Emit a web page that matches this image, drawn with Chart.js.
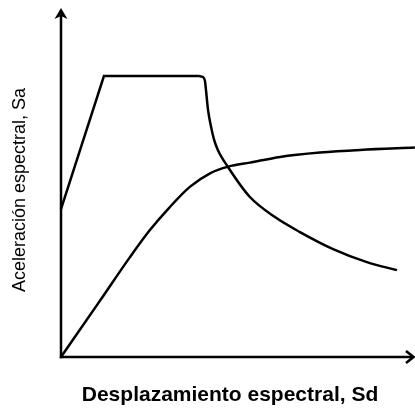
<!DOCTYPE html>
<html>
<head>
<meta charset="utf-8">
<script src="https://cdn.jsdelivr.net/npm/chart.js@4.4.0/dist/chart.umd.min.js"></script>
<style>
  html, body { margin: 0; padding: 0; background: #ffffff; }
  #wrap { width: 415px; height: 408px; position: relative; }
</style>
</head>
<body>
<div id="wrap"><canvas id="c"></canvas></div>
<script>
// Demand spectrum: linear ramp + constant plateau
const demandRampX = [0, 1.27, 4.08];
const demandRampY = [4.43, 8.41, 8.41];
// Demand spectrum: descending branch
const demandFallX = [4.08, 4.20, 4.26, 4.29, 4.35, 4.44, 4.53, 4.64, 4.94, 5.59, 6.33, 7.07, 8.05, 9.05, 9.94];
const demandFallY = [8.41, 8.38, 8.26, 7.99, 7.40, 6.89, 6.50, 6.20, 5.69, 4.79, 4.19, 3.74, 3.23, 2.84, 2.60];
// Capacity curve
const capacityX = [0, 1.15, 2.04, 2.63, 3.22, 3.82, 4.41, 4.95, 5.59, 6.48, 7.66, 8.85, 10.47];
const capacityY = [0, 1.68, 2.99, 3.80, 4.49, 5.10, 5.50, 5.70, 5.82, 5.99, 6.12, 6.20, 6.27];

const xTitle = 'Desplazamiento espectral, Sd';
const yTitle = 'Aceleración espectral, Sa';

function pts(xs, ys) { return xs.map((x, i) => ({ x: x, y: ys[i] })); }

const axesArrows = {
  id: 'axesArrows',
  afterDatasetsDraw(chart) {
    const ctx = chart.ctx;
    const a = chart.chartArea;
    const x0 = a.left, y0 = a.bottom;
    ctx.save();
    ctx.strokeStyle = '#000';
    ctx.fillStyle = '#000';
    ctx.lineWidth = 2.5;
    ctx.lineCap = 'butt';
    ctx.beginPath();
    ctx.moveTo(x0, y0 + 1.2);
    ctx.lineTo(x0, 14);
    ctx.stroke();
    ctx.beginPath();
    ctx.moveTo(x0 - 1.2, y0);
    ctx.lineTo(412, y0);
    ctx.stroke();
    // y arrow head (filled)
    ctx.beginPath();
    ctx.moveTo(x0, 8);
    ctx.lineTo(x0 + 6.5, 19);
    ctx.lineTo(x0, 16);
    ctx.lineTo(x0 - 6.5, 19);
    ctx.closePath();
    ctx.fill();
    // x arrow head (chevron)
    ctx.lineJoin = 'miter';
    ctx.beginPath();
    ctx.moveTo(406, y0 - 6);
    ctx.lineTo(413.5, y0);
    ctx.lineTo(406, y0 + 6);
    ctx.stroke();
    ctx.restore();
  }
};

new Chart(document.getElementById('c'), {
  type: 'scatter',
  data: {
    datasets: [
      { data: pts(demandRampX, demandRampY), showLine: true, borderColor: '#000', borderWidth: 2.5, pointRadius: 0, tension: 0, clip: false, borderJoinStyle: 'miter' },
      { data: pts(demandFallX, demandFallY), showLine: true, borderColor: '#000', borderWidth: 2.5, pointRadius: 0, cubicInterpolationMode: 'monotone', clip: false },
      { data: pts(capacityX, capacityY), showLine: true, borderColor: '#000', borderWidth: 2.5, pointRadius: 0, cubicInterpolationMode: 'monotone', clip: false }
    ]
  },
  options: {
    responsive: true,
    maintainAspectRatio: false,
    animation: false,
    layout: { padding: { top: 23, right: 16, left: 0, bottom: 0 } },
    plugins: { legend: { display: false }, tooltip: { enabled: false } },
    scales: {
      x: {
        type: 'linear', min: 0, max: 10,
        grid: { display: false }, border: { display: false },
        ticks: { display: false },
        title: { display: true, text: xTitle, color: '#000', padding: { top: 0, bottom: 0 },
                 font: { family: 'Liberation Sans', size: 21, weight: 'bold' } },
        afterFit(s) { s.height = 51; }
      },
      y: {
        type: 'linear', min: 0, max: 10,
        grid: { display: false }, border: { display: false },
        ticks: { display: false },
        title: { display: true, text: yTitle, color: '#000', padding: { top: 9, bottom: 0 },
                 font: { family: 'Liberation Sans', size: 18, weight: 'normal' } },
        afterFit(s) { s.width = 61; }
      }
    }
  },
  plugins: [axesArrows]
});
</script>
</body>
</html>
